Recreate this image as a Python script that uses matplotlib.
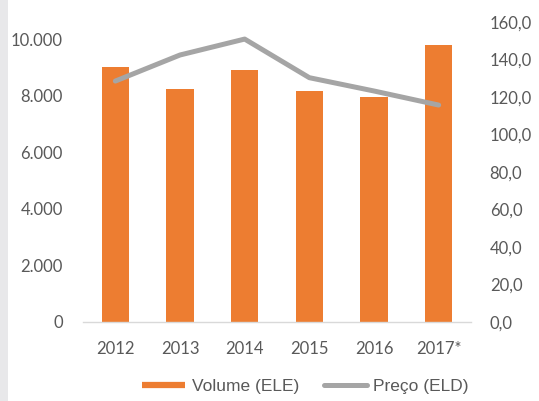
import matplotlib
matplotlib.use('agg')
import matplotlib.pyplot as plt
from matplotlib.lines import Line2D
from matplotlib.patches import Rectangle
import numpy as np

anos = ['2012', '2013', '2014', '2015', '2016', '2017*']
volume = [9000, 8230, 8890, 8170, 7940, 9780]       # Volume (ELE)
preco = [128.5, 142.4, 150.9, 130.3, 123.2, 115.7]  # Preço (ELD)

vol_ticks = [0, 2000, 4000, 6000, 8000, 10000]
vol_labels = ['0', '2.000', '4.000', '6.000', '8.000', '10.000']
preco_ticks = [0, 20, 40, 60, 80, 100, 120, 140, 160]
preco_labels = ['0,0', '20,0', '40,0', '60,0', '80,0', '100,0', '120,0', '140,0', '160,0']

laranja = '#ed7d31'
cinza = '#a5a5a5'
txt = '#595959'

fig = plt.figure(figsize=(5.39, 4.01), dpi=100)
fig.patch.set_facecolor('white')
# faixa cinza na margem esquerda
fig.patches.append(Rectangle((0, 0), 8 / 539, 1, transform=fig.transFigure,
                             facecolor='#e8e8ea', edgecolor='none', zorder=10))

ax = fig.add_axes([83 / 539, 1 - 322 / 401, 388 / 539, 300 / 401])
x = np.arange(len(anos))
ax.bar(x, volume, width=0.42, color=laranja, zorder=2)
ax.set_xlim(-0.5, len(anos) - 0.5)
ax.set_ylim(0, 10601)
ax.set_yticks(vol_ticks)
ax.set_yticklabels(vol_labels)
ax.set_xticks(x)
ax.set_xticklabels(anos)

ax2 = ax.twinx()
ax2.plot(x, preco, color=cinza, lw=3.6, solid_capstyle='round', zorder=3)
ax2.set_ylim(0, 160)
ax2.set_yticks(preco_ticks)
ax2.set_yticklabels(preco_labels)

for a in (ax, ax2):
    for s in a.spines.values():
        s.set_visible(False)
    a.tick_params(length=0, colors=txt, labelsize=12)
    for lab in a.get_xticklabels() + a.get_yticklabels():
        lab.set_family('Lato')
ax.spines['bottom'].set_visible(True)
ax.spines['bottom'].set_color('#d9d9d9')
ax.spines['bottom'].set_linewidth(1.0)
ax.tick_params(axis='y', pad=14.5)
ax.tick_params(axis='x', pad=14)
ax2.tick_params(axis='y', pad=13.5)

handles = [Line2D([], [], color=laranja, lw=4.5, solid_capstyle='butt'),
           Line2D([], [], color=cinza, lw=3.6, solid_capstyle='round')]
fig.legend(handles, ['Volume (ELE)', 'Preço (ELD)'], ncol=2, frameon=False,
           loc='center', bbox_to_anchor=(305.5 / 539, 1 - 386 / 401),
           prop={'family': 'Liberation Sans', 'size': 12.5}, labelcolor=txt,
           handlelength=2.5, handletextpad=0.35, columnspacing=1.45)

fig.savefig('out.png', dpi=100)
